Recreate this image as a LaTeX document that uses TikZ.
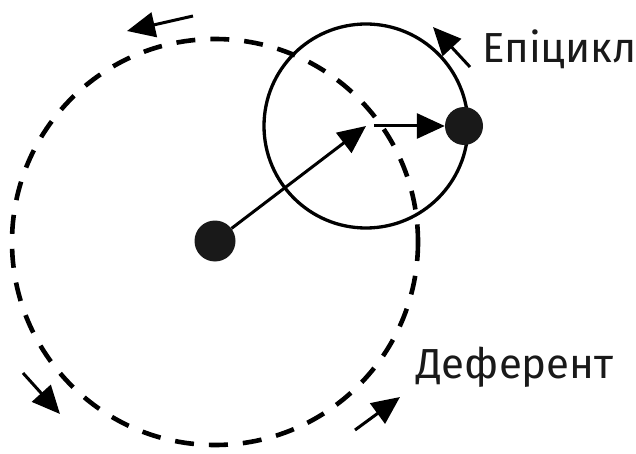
\documentclass[tikz,border=0pt]{standalone}
\usepackage{fontspec}
\setmainfont{Fira Sans}
\usetikzlibrary{arrows.meta}
\begin{document}
\begin{tikzpicture}[x=1pt,y=-1pt,
  bigarrow/.style={line width=3pt,-{Triangle[length=28pt,width=25pt]}},
  dot/.style={circle,fill=black!90,inner sep=0pt},
  lbl/.style={font=\fontsize{42}{46}\selectfont,inner sep=0pt,anchor=base west,text=black!90}]
\useasboundingbox (0,0) rectangle (636,454);
% deferent
\coordinate (D) at (215,242);
\draw[line width=4.6pt,dash pattern=on 19pt off 15pt] (D) circle[radius=203];
% epicycle
\coordinate (E) at (366,126);
\draw[line width=3.3pt] (E) circle[radius=102];
\node[dot,minimum size=41pt] (C) at (215,241) {};
\node[dot,minimum size=38pt] (P) at (464,126) {};
\draw[bigarrow] (C) -- (E);
\draw[bigarrow,shorten <=8pt] (E) -- (P.west);
% motion arrows
\coordinate (a1) at (193,16); \coordinate (b1) at (127,31);
\coordinate (a2) at (470,67); \coordinate (b2) at (433,27);
\coordinate (a3) at (23,373); \coordinate (b3) at (60,414);
\coordinate (a4) at (355,430); \coordinate (b4) at (400,397);
\draw[bigarrow] (a1) -- (b1);
\draw[bigarrow] (a2) -- (b2);
\draw[bigarrow] (a3) -- (b3);
\draw[bigarrow] (a4) -- (b4);
\node[lbl] (le) at (482,63) {Епіцикл};
\node[lbl] (ld) at (416,378) {Деферент};
\end{tikzpicture}
\end{document}
